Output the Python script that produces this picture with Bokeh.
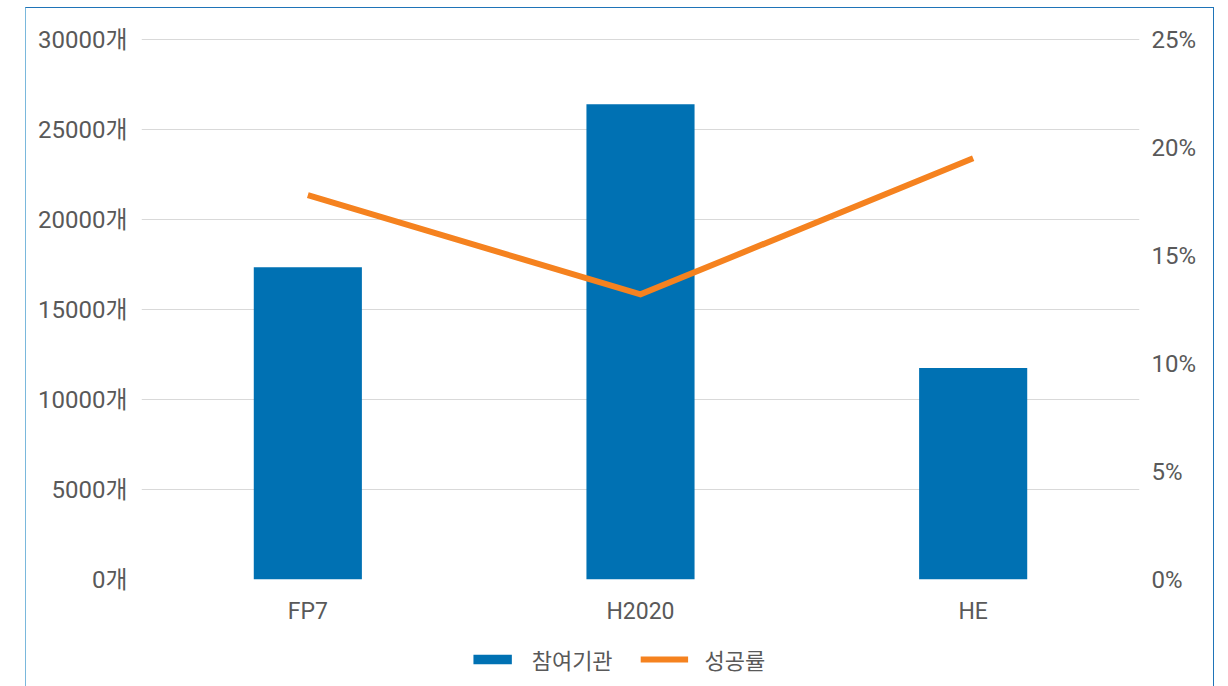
from bokeh.plotting import figure
from bokeh.layouts import column
from bokeh.models import (Range1d, LinearAxis, FixedTicker, PrintfTickFormatter,
                          Legend, LegendItem, FactorRange, ColumnDataSource)
from bokeh.embed import file_html
from bokeh.resources import INLINE

categories = ["FP7", "H2020", "HE"]
participants = [17350, 26400, 11750]      # 참여기관 (개)
success_rate = [17.8, 13.2, 19.5]         # 성공률 (%)
left_ticks = [0, 5000, 10000, 15000, 20000, 25000, 30000]
right_ticks = [0, 5, 10, 15, 20, 25]
series_names = ["참여기관", "성공률"]

FONT = "Roboto, 'Noto Sans CJK KR', sans-serif"
TXT = "#595959"
BAR_C = "#0071b3"
LINE_C = "#f5821f"

src = ColumnDataSource(dict(cat=categories, n=participants, r=success_rate))

FRAME_H = 541
pad = FRAME_H / 540.0
p = figure(width=1187, height=30 + FRAME_H + 60,
           x_range=FactorRange(*categories, range_padding=0),
           y_range=Range1d(0, 30000 * pad), output_backend="svg", toolbar_location=None,
           min_border_left=115, min_border_right=74, min_border_top=30, min_border_bottom=60)
p.outline_line_color = None
p.background_fill_color = "white"
p.border_fill_color = "white"
p.extra_y_ranges = {"pct": Range1d(0, 25 * pad)}

bars = p.vbar(x="cat", top="n", width=0.325, source=src, color=BAR_C, line_color=None)
line = p.line(x="cat", y="r", source=src, y_range_name="pct", line_color=LINE_C,
              line_width=6, line_join="miter")

p.xgrid.grid_line_color = None
p.ygrid.grid_line_color = "#d9d9d9"
p.ygrid.grid_line_width = 1
p.yaxis.ticker = FixedTicker(ticks=left_ticks)
p.yaxis.formatter = PrintfTickFormatter(format="%d개")

right = LinearAxis(y_range_name="pct", ticker=FixedTicker(ticks=right_ticks),
                   formatter=PrintfTickFormatter(format="%d%%"))
p.add_layout(right, "right")

for ax in [p.xaxis[0], p.yaxis[0], right]:
    ax.axis_line_color = None
    ax.major_tick_line_color = None
    ax.minor_tick_line_color = None
    ax.major_label_text_font = FONT
    ax.major_label_text_font_size = "24px"
    ax.major_label_text_color = TXT
p.yaxis[0].major_label_standoff = 8
right.major_label_standoff = 6
p.xaxis.major_label_text_font_size = "23px"
p.xaxis.major_label_standoff = 12

# legend strip below the chart (hidden copies of the two series supply the legend glyphs)
lg = figure(width=1140, height=48, x_range=FactorRange(*categories), y_range=Range1d(0, 1),
            output_backend="svg", toolbar_location=None,
            min_border_left=0, min_border_right=0,
            min_border_top=0, min_border_bottom=0)
lg.axis.visible = False
lg.grid.visible = False
lg.outline_line_color = None
lg.border_fill_color = "white"
lb = lg.vbar(x="cat", top="n", width=0.3, source=src, color=BAR_C, line_color=None, visible=False)
ll = lg.line(x="cat", y="r", source=src, line_color=LINE_C, line_width=6, visible=False)
legend = Legend(items=[LegendItem(label=series_names[0], renderers=[lb]),
                       LegendItem(label=series_names[1], renderers=[ll])],
                orientation="horizontal", location="top_center",
                label_text_font=FONT, label_text_font_size="22px", label_text_color=TXT,
                glyph_width=48, glyph_height=12, label_standoff=16, spacing=28,
                border_line_color=None, background_fill_alpha=0, margin=4, padding=4)
lg.add_layout(legend, "center")

layout = column(p, lg, spacing=0)
layout.styles = {"margin-left": "25px", "margin-top": "7px", "border-top": "1px solid #1f74b8",
                 "border-left": "1px solid #7ab8dc", "border-right": "1px solid #1f74b8"}

open("out.html", "w").write(file_html(layout, INLINE))
